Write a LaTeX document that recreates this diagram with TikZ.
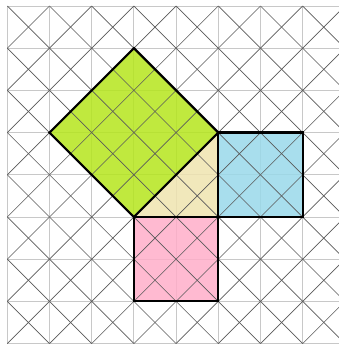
\documentclass[tikz,border=0pt]{standalone}
\definecolor{lime}{HTML}{B5E61D}
\definecolor{sky}{HTML}{99D9EA}
\definecolor{rose}{HTML}{FFAEC9}
\definecolor{beige}{HTML}{EFE4B0}
\definecolor{gridgray}{HTML}{C8C8C8}
\definecolor{diaggray}{HTML}{5A5A5A}
\tikzset{
  gridline/.style={draw=gridgray, line width=0.9pt},
  diagline/.style={draw=diaggray, line width=0.65pt},
  outline/.style={draw=black, line width=2.2pt, line join=miter},
  shade/.style={fill opacity=0.85}
}
\begin{document}
\begin{tikzpicture}[x=42.2pt, y=-42.2pt]
\useasboundingbox[fill=white] (-0.173,-0.142) rectangle (7.86,8.01);
\clip (-0.173,-0.142) rectangle (7.86,8.01);
% key points
\coordinate (T) at (3,1);
\coordinate (L) at (1,3);
\coordinate (B) at (3,5);
\coordinate (R) at (5,3);
\coordinate (C) at (5,5);
\coordinate (BR1) at (7,3);
\coordinate (BR2) at (7,5);
\coordinate (PB1) at (3,7);
\coordinate (PB2) at (5,7);
% grid
\foreach \k in {0,...,8} {
  \draw[gridline] (\k,0) -- (\k,8.2);
  \draw[gridline] (0,\k) -- (8.2,\k);
}
% fills
\fill[lime, shade] (T) -- (R) -- (B) -- (L) -- cycle;
\fill[beige, shade] (B) -- (R) -- (C) -- cycle;
\fill[sky, shade] (R) rectangle (BR2);
\fill[rose, shade] (B) rectangle (PB2);
% diagonals
\foreach \i in {0,...,7} {
  \foreach \j in {0,...,7} {
    \draw[diagline] (\i,\j) -- (\i+1,\j+1);
    \draw[diagline] (\i+1,\j) -- (\i,\j+1);
  }
}
% outlines
\draw[outline] (T) -- (R) -- (B) -- (L) -- cycle;
\draw[outline] (R) -- (BR1) -- (BR2) -- (C) -- cycle;
\draw[outline] (B) -- (C) -- (PB2) -- (PB1) -- cycle;
\end{tikzpicture}
\end{document}
